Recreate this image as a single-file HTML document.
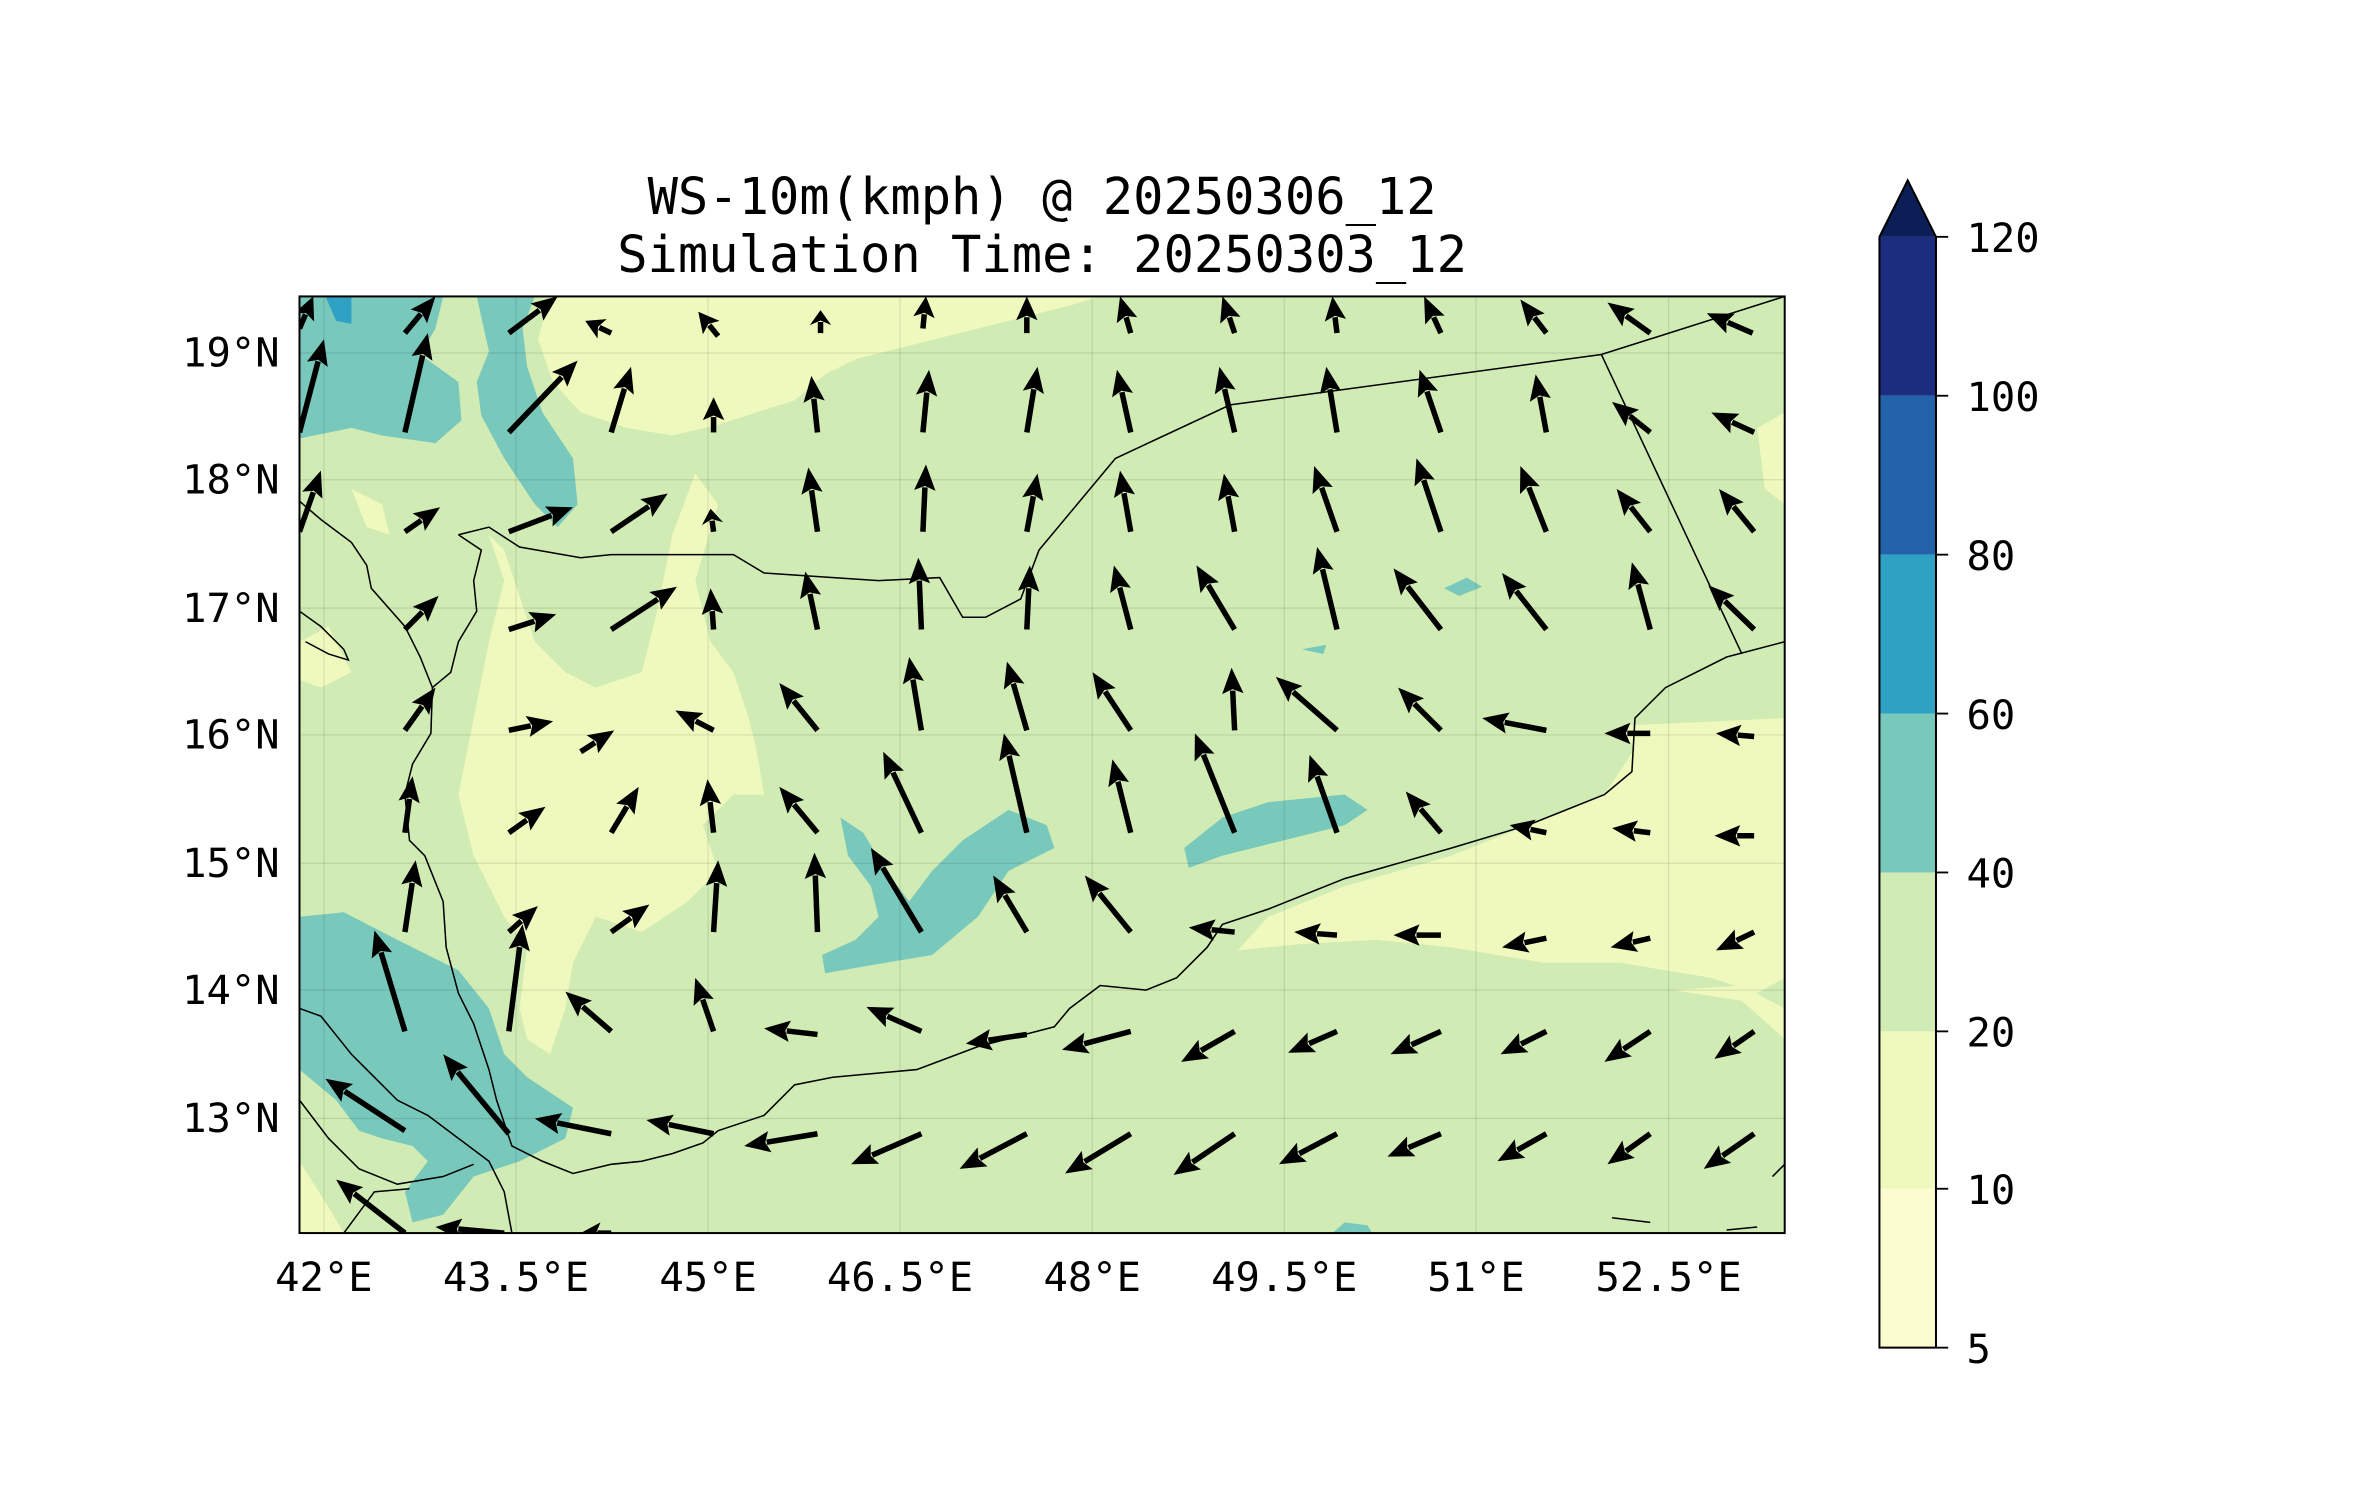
<!DOCTYPE html>
<html><head><meta charset="utf-8"><style>
html,body{margin:0;padding:0;background:#fff;}
svg{display:block;}
text{font-family:"DejaVu Sans Mono","Liberation Mono",monospace;fill:#000;}
</style></head><body>
<svg id="s" width="2371" height="1500" viewBox="0 0 1551.7 981.7" preserveAspectRatio="none" xmlns="http://www.w3.org/2000/svg">
<defs><clipPath id="c"><rect x="196" y="194" width="972" height="613"/></clipPath></defs>
<rect width="1552" height="982" fill="#fff"/>
<g clip-path="url(#c)">
<rect x="196" y="194" width="972" height="613" fill="#d1ebb4"/>
<g fill="#eff9bd">
<path d="M360,194 L720,194 L700,200 L640,215 L600,225 L560,235 L540,245 L520,262 L470,278 L440,285 L410,280 L380,270 L362,250 L352,222Z"/>
<path d="M1150,280 L1168,270 L1168,330 L1155,320Z"/>
<path d="M300,330 L320,350 L330,380 L320,420 L310,470 L300,520 L310,560 L330,600 L345,620 L340,660 L345,680 L360,690 L370,660 L375,630 L390,600 L420,610 L450,590 L470,570 L460,540 L480,520 L500,520 L495,490 L490,470 L480,440 L465,420 L455,380 L470,330 L455,310 L440,350 L430,400 L420,440 L390,450 L370,440 L350,420 L340,390 L330,360Z"/>
<path d="M230,320 L250,330 L255,350 L240,345Z"/>
<path d="M1060,475 L1168,470 L1168,640 L1150,650 L1120,640 L1060,630 L1010,630 L950,620 L900,615 L850,618 L810,622 L830,600 L880,580 L950,560 L1000,540 L1050,520 L1070,490Z"/>
<path d="M1095,648 L1140,655 L1168,680 L1168,660 L1140,645Z"/>
<path d="M196,760 L215,790 L225,807 L196,807Z"/>
<path d="M196,420 L215,410 L230,440 L210,450 L196,445Z"/>
</g>
<g fill="#78c8bb">
<path d="M196,194 L290,194 L285,215 L275,232 L300,250 L302,275 L285,290 L250,285 L230,280 L196,287Z"/>
<path d="M312,194 L350,194 L342,215 L345,240 L355,270 L375,300 L378,330 L365,345 L350,330 L330,300 L315,272 L312,250 L320,230Z"/>
<path d="M196,600 L225,597 L260,615 L300,635 L320,660 L330,690 L345,705 L375,725 L370,745 L340,760 L310,770 L290,795 L270,800 L265,780 L280,760 L270,750 L250,745 L235,740 L220,720 L196,700Z"/>
<path d="M550,535 L565,545 L580,570 L595,590 L610,570 L630,550 L660,530 L685,540 L690,555 L660,570 L640,600 L610,625 L580,630 L540,637 L538,625 L560,615 L575,600 L570,580 L555,560Z"/>
<path d="M775,555 L800,535 L830,525 L880,520 L895,530 L880,540 L840,550 L800,560 L778,568Z"/>
<path d="M945,385 L960,378 L970,384 L955,390Z"/>
<path d="M852,425 L868,422 L866,428Z"/>
<path d="M872,807 L880,800 L895,802 L898,807Z"/>
</g>
<path d="M213,194 L230,194 L230,212 L220,210Z" fill="#2ea1c5"/>
<g stroke="#000" stroke-opacity="0.1" stroke-width="0.8">
<line x1="212" y1="194" x2="212" y2="807"/><line x1="337.7" y1="194" x2="337.7" y2="807"/><line x1="463.4" y1="194" x2="463.4" y2="807"/><line x1="589" y1="194" x2="589" y2="807"/><line x1="714.8" y1="194" x2="714.8" y2="807"/><line x1="840.5" y1="194" x2="840.5" y2="807"/><line x1="966" y1="194" x2="966" y2="807"/><line x1="1092" y1="194" x2="1092" y2="807"/>
<line x1="196" y1="231" x2="1168" y2="231"/><line x1="196" y1="314" x2="1168" y2="314"/><line x1="196" y1="398" x2="1168" y2="398"/><line x1="196" y1="481" x2="1168" y2="481"/><line x1="196" y1="565" x2="1168" y2="565"/><line x1="196" y1="648" x2="1168" y2="648"/><line x1="196" y1="732" x2="1168" y2="732"/>
</g>
<g fill="none" stroke="#000" stroke-width="1">
<polyline points="300,350 320,345 340,358 380,365 400,363 480,363 500,375 575,380 615,378 630,404 645,404 668,392 680,360 730,300 805,265 1048,232 1168,194"/>
<polyline points="1048,232 1140,428"/>
<polyline points="196,328 210,340 230,355 240,370 243,385 265,410 275,430 283,450 282,480 270,500 265,520 268,550 278,560 290,590 292,620 300,650 310,670 320,700 325,720 335,750 355,760 375,768 400,762 420,760 440,755 460,748 470,740 500,730 520,710 545,705 600,700 640,685 690,672 700,660 720,645 750,648 770,640 790,620 800,605 830,595 880,575 950,555 1000,540 1050,520 1068,505 1070,470 1090,450 1130,430 1168,420"/>
<polyline points="300,350 315,360 310,380 312,400 300,420 295,440 283,450"/>
<polyline points="196,660 210,665 230,690 240,700 260,720 280,730 300,745 320,760 330,780 335,807"/>
<polyline points="196,720 215,745 235,765 260,775 290,770 310,762"/>
<polyline points="225,807 245,780 268,778"/>
<polyline points="196,400 210,410 225,425 228,432 215,428 200,420"/>
<polyline points="1055,797 1080,800"/><polyline points="1130,805 1150,803"/><polyline points="1160,770 1168,762"/>
</g>
<g id="arrows" fill="#000" stroke="#000"></g>
</g>
<rect x="196" y="194" width="972" height="613" fill="none" stroke="#000" stroke-width="1.3"/>
<g font-size="26.5" text-anchor="end">
<text x="183" y="240">19°N</text><text x="183" y="323">18°N</text><text x="183" y="407">17°N</text><text x="183" y="490">16°N</text><text x="183" y="574">15°N</text><text x="183" y="657">14°N</text><text x="183" y="741">13°N</text>
</g>
<g font-size="26.5" text-anchor="middle">
<text x="212" y="845">42°E</text><text x="337.7" y="845">43.5°E</text><text x="463.4" y="845">45°E</text><text x="589" y="845">46.5°E</text><text x="714.8" y="845">48°E</text><text x="840.5" y="845">49.5°E</text><text x="966" y="845">51°E</text><text x="1092" y="845">52.5°E</text>
</g>
<g font-size="33" text-anchor="middle">
<text x="682" y="140">WS-10m(kmph) @ 20250306_12</text>
<text x="682" y="178">Simulation Time: 20250303_12</text>
</g>
<rect x="1230" y="778" width="37" height="104" fill="#fbfdd0"/>
<rect x="1230" y="675" width="37" height="103" fill="#eff9bd"/>
<rect x="1230" y="571" width="37" height="104" fill="#d1ebb4"/>
<rect x="1230" y="467" width="37" height="104" fill="#78c8bb"/>
<rect x="1230" y="363" width="37" height="104" fill="#2fa2c4"/>
<rect x="1230" y="259" width="37" height="104" fill="#2262a8"/>
<rect x="1230" y="155" width="37" height="104" fill="#1c2c7e"/>
<path d="M1230,155 L1248.5,118 L1267,155Z" fill="#0b1e55"/>
<path d="M1230,882 L1230,155 L1248.5,118 L1267,155 L1267,882Z" fill="none" stroke="#000" stroke-width="1.3"/>
<g stroke="#000" stroke-width="1.2">
<line x1="1267" y1="155" x2="1275" y2="155"/><line x1="1267" y1="259" x2="1275" y2="259"/><line x1="1267" y1="363" x2="1275" y2="363"/><line x1="1267" y1="467" x2="1275" y2="467"/><line x1="1267" y1="571" x2="1275" y2="571"/><line x1="1267" y1="675" x2="1275" y2="675"/><line x1="1267" y1="778" x2="1275" y2="778"/><line x1="1267" y1="882" x2="1275" y2="882"/>
</g>
<g font-size="26.5">
<text x="1287" y="165">120</text><text x="1287" y="269">100</text><text x="1287" y="373">80</text><text x="1287" y="477">60</text><text x="1287" y="581">40</text><text x="1287" y="685">20</text><text x="1287" y="788">10</text><text x="1287" y="892">5</text>
</g>
</svg>
<script>
var A=[
[196,215,205,194],[265,218,285,194],[333,218,365,194],[400,218,383,210],[470,220,457,204],[537,218,537,203],[604,215,606,194],[672,218,672,194],[740,218,733,194],[808,218,800,194],[875,218,872,194],[943,218,932,194],[1012,218,995,196],[1080,218,1052,198],[1147,218,1117,205],
[196,283,212,222],[265,283,280,218],[333,283,378,236],[400,283,413,240],[467,283,467,260],[535,283,531,246],[604,283,608,242],[672,283,679,240],[740,283,731,242],[808,283,798,240],[875,283,868,240],[943,283,929,242],[1012,283,1005,245],[1080,283,1055,263],[1148,283,1120,270],
[196,348,210,308],[265,348,288,332],[333,348,375,332],[400,348,437,323],[467,348,465,333],[535,348,529,306],[604,348,606,304],[672,348,679,310],[740,348,733,308],[808,348,801,310],[875,348,860,305],[943,348,927,300],[1012,348,995,305],[1080,348,1058,320],[1148,348,1125,320],
[265,412,287,390],[333,412,364,402],[400,412,443,384],[467,412,465,385],[535,412,527,374],[603,412,601,365],[672,412,674,370],[740,412,729,370],[808,412,783,370],[875,412,862,358],[943,412,912,372],[1012,412,983,375],[1080,412,1068,368],[1148,412,1118,383],
[265,478,285,450],[333,478,362,472],[380,492,402,478],[467,478,442,465],[535,478,510,447],[603,478,595,430],[672,478,659,433],[740,478,715,440],[808,478,806,437],[875,478,835,443],[943,478,915,450],[1012,478,970,470],[1080,480,1050,480],[1148,482,1123,480],
[265,545,270,508],[333,545,357,528],[400,545,418,515],[467,545,463,510],[535,545,510,515],[603,545,578,492],[672,545,657,480],[740,545,728,497],[808,545,782,480],[875,545,857,494],[943,545,920,518],[1012,545,988,540],[1080,545,1055,542],[1148,547,1122,547],
[265,610,272,563],[333,610,352,593],[400,610,425,592],[467,610,470,563],[535,610,533,558],[603,610,570,555],[672,610,650,573],[740,610,710,573],[808,610,778,607],[875,612,847,610],[943,612,912,612],[1012,614,983,620],[1080,614,1054,620],[1148,610,1123,622],
[265,675,245,609],[333,675,342,605],[400,675,370,649],[467,675,455,640],[535,677,500,673],[603,675,567,659],[672,677,632,683],[740,675,695,687],[808,675,773,695],[875,675,843,689],[943,675,910,690],[1012,675,982,690],[1080,675,1050,695],[1148,675,1122,693],
[265,740,213,706],[333,742,290,690],[400,742,350,732],[467,742,423,733],[535,742,487,750],[603,742,557,762],[672,742,628,765],[740,742,697,768],[808,742,768,769],[875,742,837,762],[943,742,908,757],[1012,742,980,760],[1080,742,1052,762],[1148,742,1115,765],
[265,807,220,772],[330,807,285,803],[400,807,380,807]];
var g=document.getElementById('arrows'),h='';
A.forEach(function(a){var dx=a[2]-a[0],dy=a[3]-a[1],L=Math.sqrt(dx*dx+dy*dy);if(L<1)return;var ux=dx/L,uy=dy/L,px=-uy,py=ux;var hl=Math.min(17,L*0.65),hw=7;
var bx=a[2]-ux*hl,by=a[3]-uy*hl;
h+='<line x1="'+a[0]+'" y1="'+a[1]+'" x2="'+(bx+ux*2)+'" y2="'+(by+uy*2)+'" stroke-width="3.6"/>';
h+='<polygon stroke="none" points="'+a[2]+','+a[3]+' '+(bx+px*hw)+','+(by+py*hw)+' '+(bx+ux*3)+','+(by+uy*3)+' '+(bx-px*hw)+','+(by-py*hw)+'"/>';});
g.innerHTML=h;
</script>
</body></html>
